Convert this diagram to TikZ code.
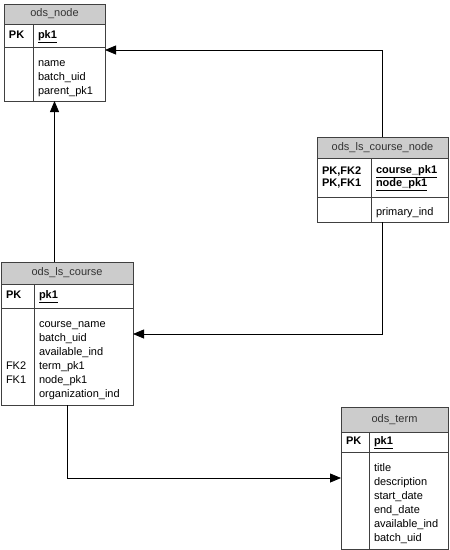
\documentclass[tikz,border=0pt]{standalone}
\usepackage{fontspec}
\setmainfont{Liberation Sans}
\usetikzlibrary{positioning,arrows.meta}
\tikzstyle{title} = [rectangle,
                    draw=black!75,
                    fill=black!20,
                    text=black!80,
                    inner sep=0pt,
                    outer sep=0pt]
\tikzstyle{field} = [rectangle,
                    draw=black!75,
                    align=left,
                    inner xsep=5pt,
                    inner ysep=1pt,
                    outer sep=0pt]
\tikzstyle{diagram} = [x=1pt,
                      y=-1pt,
                      font=\fontsize{11}{14}\selectfont,
                      line width=0.8pt,
                      >={Triangle[length=11pt,width=9pt]}]
\tikzstyle{elbow} = [to path={|- (\tikztotarget)}]
\newcommand{\topgap}{\rule{0pt}{17pt}}

\begin{document}
\begin{tikzpicture}[diagram]
    \useasboundingbox (0,0) rectangle (450,550);
    % ods_node
    \node (0) at (4,4) [title, anchor=north west, minimum width=101pt, minimum height=20pt] {ods\_node};
    \node (1) [below right=0pt and 0pt of 0.south west] [field, text width=19pt, minimum height=23pt] {\strut\textbf{PK}};
    \node (2) [right=0pt of 1] [field, text width=62pt, minimum height=23pt] {\strut\underline{\textbf{pk1}}};
    \node (3) [below=0pt of 1] [field, text width=19pt, minimum height=54pt] {};
    \node (4) [right=0pt of 3] [field, text width=62pt, minimum height=54pt] {\topgap name\\batch\_uid\\parent\_pk1\strut};
    % ods_ls_course_node
    \node (5) at (317,137) [title, anchor=north west, minimum width=131pt, minimum height=21pt] {ods\_ls\_course\_node};
    \node (6) [below right=0pt and 0pt of 5.south west] [field, text width=44pt, minimum height=39pt] {\strut\textbf{PK,FK2}\\[-2pt]\textbf{PK,FK1}\strut};
    \node (7) [right=0pt of 6] [field, text width=67pt, minimum height=39pt] {\strut\underline{\textbf{course\_pk1}}\\[-2pt]\underline{\textbf{node\_pk1}}\strut};
    \node (8) [below=0pt of 6] [field, text width=44pt, minimum height=25pt] {};
    \node (9) [right=0pt of 8] [field, text width=67pt, minimum height=25pt] {\topgap primary\_ind\strut};
    % ods_ls_course
    \node (10) at (1,262) [title, anchor=north west, minimum width=132pt, minimum height=22pt] {ods\_ls\_course};
    \node (11) [below right=0pt and 0pt of 10.south west] [field, text width=23pt, minimum height=24pt] {\strut\textbf{PK}};
    \node (12) [right=0pt of 11] [field, text width=89pt, minimum height=24pt] {\strut\underline{\textbf{pk1}}};
    \node (13) [below=0pt of 11] [field, text width=23pt, minimum height=97pt] {\topgap~\\~\\~\\FK2\\FK1\\~\strut};
    \node (14) [right=0pt of 13] [field, text width=89pt, minimum height=97pt] {\topgap course\_name\\batch\_uid\\available\_ind\\term\_pk1\\node\_pk1\\organization\_ind\strut};
    % ods_term
    \node (15) at (341,407) [title, anchor=north west, minimum width=107pt, minimum height=25pt] {ods\_term};
    \node (16) [below right=0pt and 0pt of 15.south west] [field, text width=18pt, minimum height=20pt] {\strut\textbf{PK}};
    \node (17) [right=0pt of 16] [field, text width=69pt, minimum height=20pt] {\strut\underline{\textbf{pk1}}};
    \node (18) [below=0pt of 16] [field, text width=18pt, minimum height=97pt] {};
    \node (19) [right=0pt of 18] [field, text width=69pt, minimum height=97pt] {\topgap title\\description\\start\_date\\end\_date\\available\_ind\\batch\_uid\strut};
    \path[->]
      (5.north) edge [elbow] ([yshift=-3pt]4.north east)
      (5 |- 9.south) edge [elbow] ([yshift=-26pt]14.north east)
      (0 |- 10.north) edge (0 |- 4.south)
      (10 |- 14.south) edge [elbow] ([yshift=-26pt]18.north west);
\end{tikzpicture}
\end{document}
